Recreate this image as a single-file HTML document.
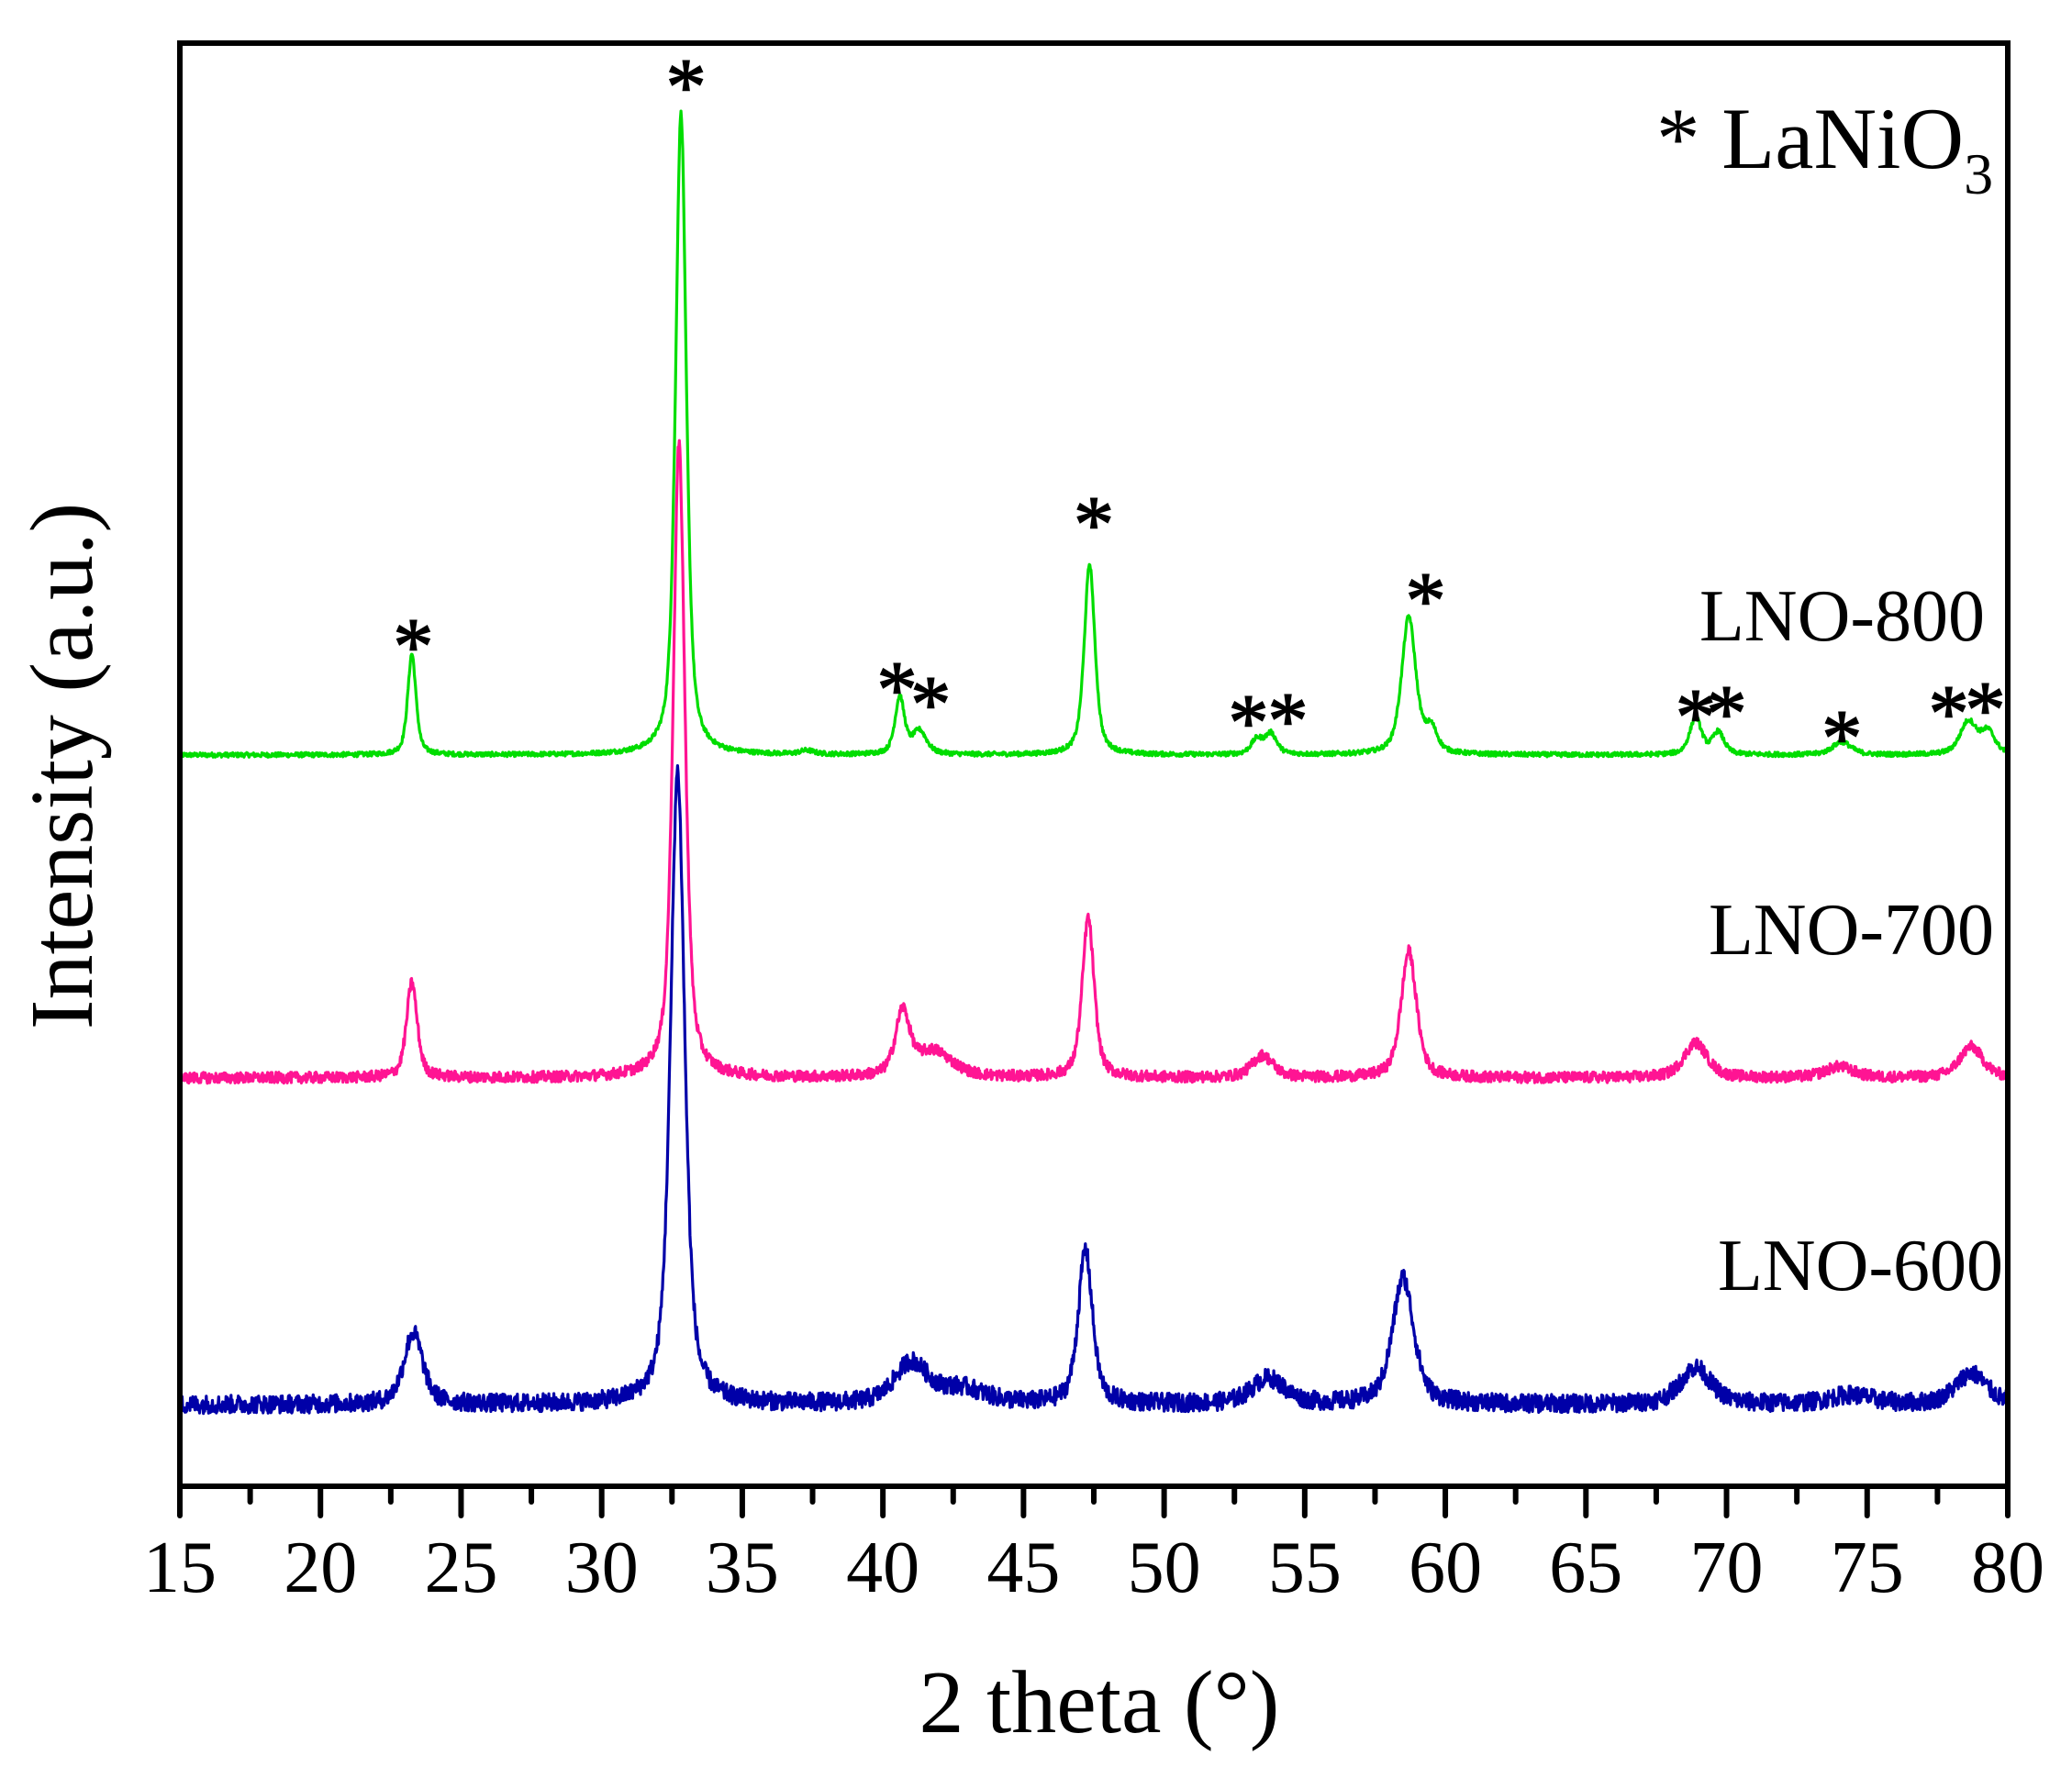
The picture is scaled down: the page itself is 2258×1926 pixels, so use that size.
<!DOCTYPE html>
<html><head><meta charset="utf-8"><style>
html,body{margin:0;padding:0;background:#fff;}
svg{display:block;font-family:"Liberation Serif",serif;}
</style></head><body>
<svg id="chart" width="2258" height="1926" viewBox="0 0 2258 1926" xmlns="http://www.w3.org/2000/svg">
<g id="series"></g>
<g id="axes"></g>
<g id="stars"></g>
<text x="1805" y="183" font-size="95">* LaNiO<tspan font-size="64" dy="28">3</tspan></text>
<text x="2163" y="698" font-size="80" text-anchor="end">LNO-800</text>
<text x="2173" y="1040" font-size="80" text-anchor="end">LNO-700</text>
<text x="2183" y="1406" font-size="80" text-anchor="end">LNO-600</text>
<text x="1198" y="1888" font-size="98" text-anchor="middle">2 theta (°)</text>
<text transform="translate(100,835) rotate(-90)" font-size="98" text-anchor="middle">Intensity (a.u.)</text>
</svg>
<script>
// x axis
const xTicks = [15,20,25,30,35,40,45,50,55,60,65,70,75,80];
const xMin = 15, xMax = 80;
// series data: peak positions (deg), heights (a.u.), widths (deg FWHM)
const seriesNames = ["LNO-800","LNO-700","LNO-600"];
const seriesColors = ["#00dd00","#ff1493","#0000a8"];
const baselines = [823, 1175, 1531];
const noiseAmp = [2.5, 6, 10];
const pos800 = [23.25,32.82,37.3,40.6,41.3,47.35,53.3,53.8,58.7,59.5,68.9,69.7,74.1,78.6,79.3];
const hgt800 = [110,700,4,62,25,208,16,22,150,25,40,24,14,36,24];
const wid800 = [0.35,0.45,0.6,0.4,0.6,0.45,0.5,0.5,0.6,0.5,0.5,0.5,0.8,0.7,0.6];
const pos700 = [23.25,32.75,40.7,41.8,47.3,53.5,58.7,68.9,74.0,78.7];
const hgt700 = [104,690,68,28,174,24,138,38,12,34];
const wid700 = [0.45,0.5,0.6,1.6,0.5,0.9,0.65,1.0,1.2,1.0];
const pos600 = [23.3,32.7,41.0,42.8,47.2,53.7,58.5,68.9,74.4,78.7];
const hgt600 = [78,690,44,16,168,28,138,40,10,34];
const wid600 = [0.8,0.6,1.4,2.0,0.6,1.4,0.9,1.3,1.8,1.3];
const peakSets = [[pos800,hgt800,wid800],[pos700,hgt700,wid700],[pos600,hgt600,wid600]];
// star markers above peaks (deg, intensity above baseline of LNO-800)
const starPos = [23.3,33.0,40.5,41.7,47.5,53.0,54.4,59.3,68.9,70.0,74.1,77.9,79.2];
const starHgt = [135,745,88,72,268,52,54,185,58,62,35,62,66];

const L=196,R=2188,T=47,B=1620;
const xs = v => L + (v-xMin)/(xMax-xMin)*(R-L);
const NS="http://www.w3.org/2000/svg";
function mk(tag, attrs, parent){const e=document.createElementNS(NS,tag);for(const k in attrs)e.setAttribute(k,attrs[k]);parent.appendChild(e);return e;}

let seed=12345;
function rnd(){seed=(seed*1103515245+12345)%2147483648;return seed/2147483648;}

const sg=document.getElementById('series');
peakSets.forEach((ps,si)=>{
  const [p,h,w]=ps;
  let d="";
  for(let x=xMin;x<=xMax+1e-9;x+=0.02){
    let I=0;
    for(let k=0;k<p.length;k++){
      const g=w[k]/2, dx=x-p[k];
      const lor=1/(1+(dx/g)*(dx/g));
      const gau=Math.exp(-Math.LN2*(dx/g)*(dx/g));
      I+=h[k]*(0.6*lor+0.4*gau);
    }
    I+=(rnd()-0.5)*2*noiseAmp[si];
    const y=baselines[si]-I;
    d+=(d?"L":"M")+xs(x).toFixed(1)+","+y.toFixed(1);
  }
  const path=mk('path',{d:d,fill:'none',stroke:seriesColors[si],'stroke-width':3.2,'stroke-linejoin':'round'},sg);
  
  
});

const ax=document.getElementById('axes');
const frame=mk('rect',{x:L,y:T,width:R-L,height:B-T,fill:'none',stroke:'#000','stroke-width':6},ax);


xTicks.forEach(t=>{
  const x=xs(t);
  const tk=mk('line',{x1:x,y1:B,x2:x,y2:B+32,stroke:'#000','stroke-width':6,'stroke-linecap':'round'},ax);
  
  
  const lb=mk('text',{x:x,y:1735,'font-size':80,'text-anchor':'middle'},ax);
  lb.textContent=t;
  
  
  if(t<xMax){
    const xm=xs(t+2.5);
    const mt=mk('line',{x1:xm,y1:B,x2:xm,y2:B+17,stroke:'#000','stroke-width':6,'stroke-linecap':'round'},ax);
    
    
  }
});

const st=document.getElementById('stars');
starPos.forEach((p,i)=>{
  const s=mk('text',{x:xs(p),y:baselines[0]-starHgt[i]+46,'font-size':88,'text-anchor':'middle','stroke':'#000','stroke-width':1.5},st);
  s.textContent='*';
  
  
});
</script>
</body></html>
